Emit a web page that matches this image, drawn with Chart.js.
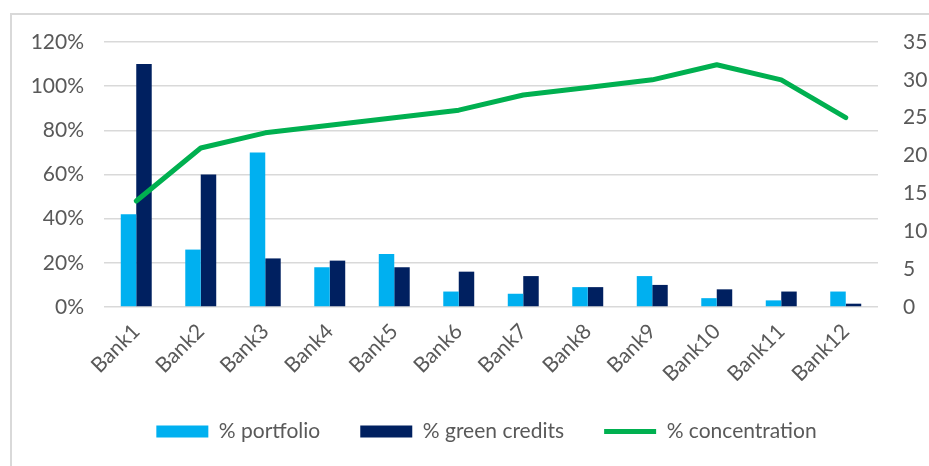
<!DOCTYPE html>
<html>
<head>
<meta charset="utf-8">
<script src="https://cdn.jsdelivr.net/npm/chart.js@4.4.1/dist/chart.umd.min.js"></script>
<style>
  html, body { margin: 0; padding: 0; background: #ffffff; }
  #wrap { position: relative; width: 929px; height: 466px; overflow: hidden; }
  #frame { position: absolute; left: 10px; top: 13px; width: 1000px; height: 500px; border-left: 2px solid #d9d9d9; border-top: 2px solid #d9d9d9; box-sizing: border-box; }
  canvas { position: absolute; left: 0; top: 0; }
</style>
</head>
<body>
<div id="wrap">
  <div id="frame"></div>
  <canvas id="c" width="929" height="466"></canvas>
</div>
<script>
const categories = ["Bank1","Bank2","Bank3","Bank4","Bank5","Bank6","Bank7","Bank8","Bank9","Bank10","Bank11","Bank12"];
const portfolio = [0.42, 0.26, 0.70, 0.18, 0.24, 0.07, 0.06, 0.09, 0.14, 0.04, 0.03, 0.07];
const greenCredits = [1.10, 0.60, 0.22, 0.21, 0.18, 0.16, 0.14, 0.09, 0.10, 0.08, 0.07, 0.015];
const concentration = [14, 21, 23, 24, 25, 26, 28, 29, 30, 32, 30, 25];
const seriesNames = ["% portfolio", "% green credits", "% concentration"];

const FONT = "Lato";
const TXT = "#595959";

const chart = new Chart(document.getElementById("c"), {
  type: "bar",
  data: {
    labels: categories,
    datasets: [
      { label: seriesNames[0], data: portfolio, backgroundColor: "#00b0f0", borderWidth: 0, yAxisID: "y", order: 2, pointStyle: "rect",
        categoryPercentage: 0.48, barPercentage: 1.0 },
      { label: seriesNames[1], data: greenCredits, backgroundColor: "#002060", borderWidth: 0, yAxisID: "y", order: 2, pointStyle: "rect",
        categoryPercentage: 0.48, barPercentage: 1.0 },
      { type: "line", label: seriesNames[2], data: concentration, borderColor: "#00b050", backgroundColor: "#00b050",
        borderWidth: 5, pointRadius: 0, pointHoverRadius: 0, tension: 0, yAxisID: "y1", order: 1, pointStyle: "line",
        borderCapStyle: "round", borderJoinStyle: "round" }
    ]
  },
  options: {
    responsive: false,
    animation: false,
    devicePixelRatio: 1,
    layout: { padding: { top: 42, left: 20, right: -24, bottom: 14 } },
    plugins: {
      tooltip: { enabled: false },
      legend: {
        position: "bottom",
        labels: {
          usePointStyle: true,
          pointStyleWidth: 52,
          boxHeight: 12,
          padding: 40,
          color: TXT,
          font: { family: FONT, size: 21 },
          sort: (a, b) => a.datasetIndex - b.datasetIndex
        }
      }
    },
    scales: {
      x: {
        grid: { display: false },
        border: { display: false },
        ticks: { color: TXT, font: { family: FONT, size: 21 }, maxRotation: 45, minRotation: 45, padding: 4 },
        afterFit: (s) => { s.height = 74; }
      },
      y: {
        position: "left",
        min: 0, max: 1.2,
        ticks: { stepSize: 0.2, color: TXT, font: { family: FONT, size: 21 }, padding: 20,
          callback: (v) => Math.round(v * 100) + "%" },
        grid: { color: "#d9d9d9", lineWidth: 1.5, drawTicks: false },
        border: { display: false },
        afterFit: (s) => { s.width = 84; }
      },
      y1: {
        position: "right",
        min: 0, max: 35,
        ticks: { stepSize: 5, color: TXT, font: { family: FONT, size: 21 }, padding: 25 },
        grid: { display: false, drawTicks: false },
        border: { display: false },
        afterFit: (s) => { s.width = 75; }
      }
    }
  }
});
</script>
</body>
</html>
